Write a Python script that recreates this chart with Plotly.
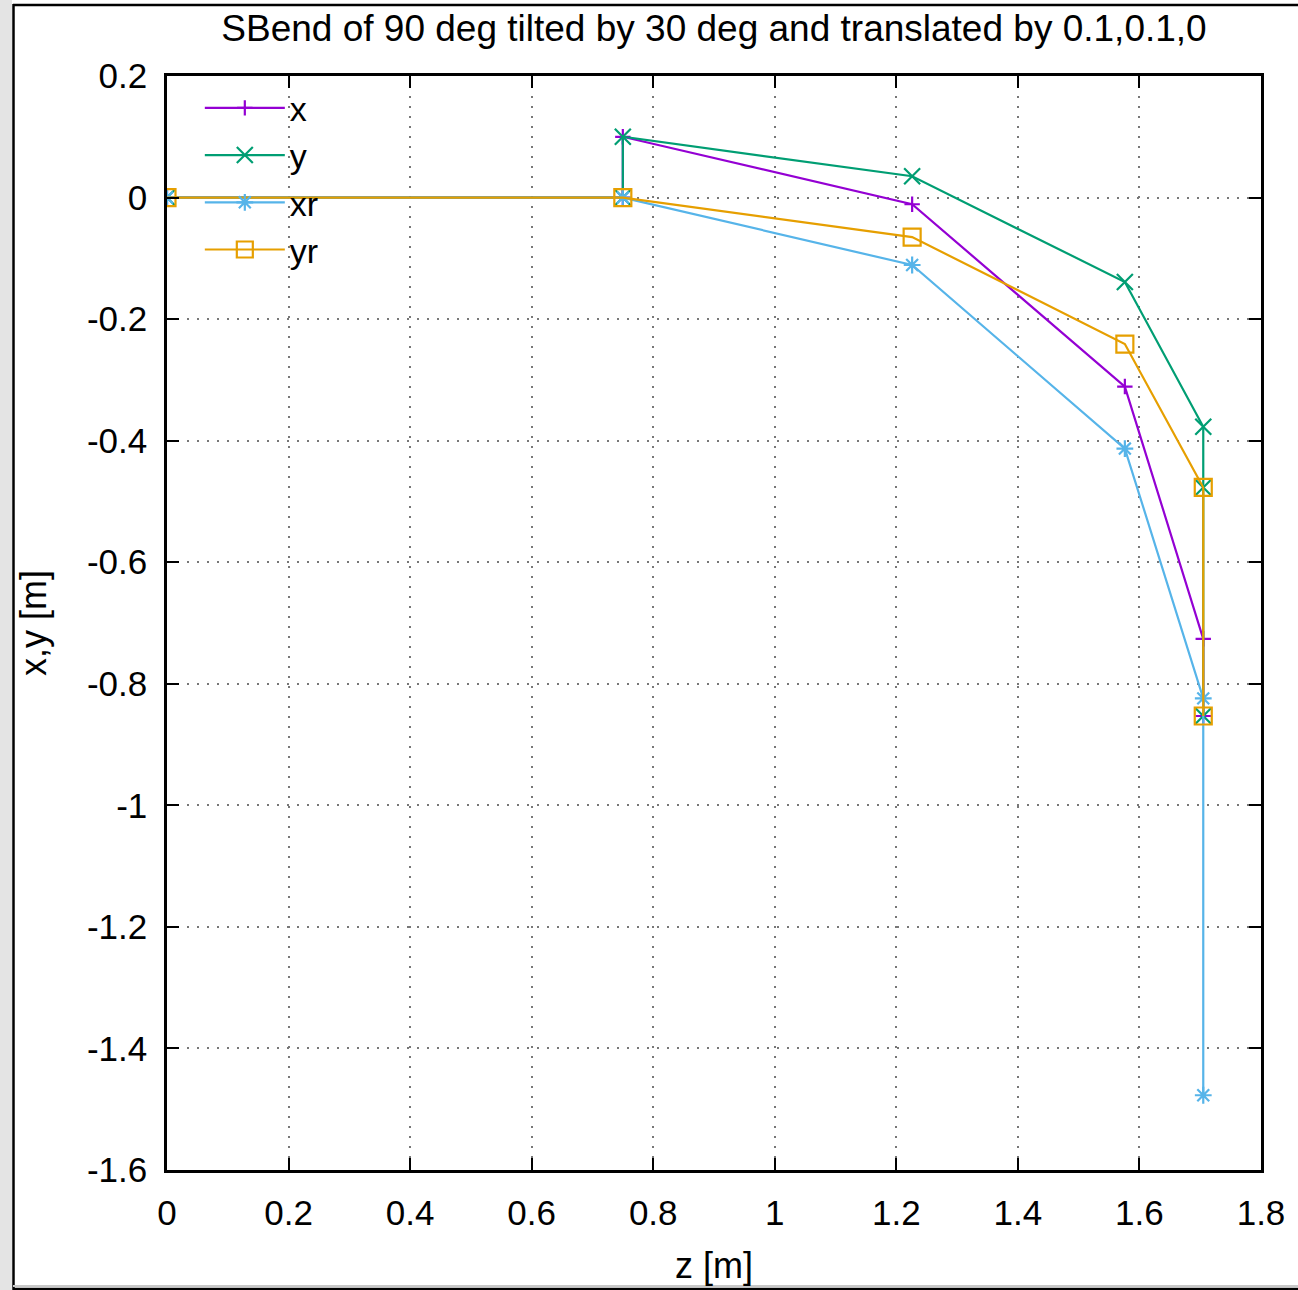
import plotly.graph_objects as go

# ---- data ----
z_x = [0, 0.75, 0.75, 1.226, 1.576, 1.705, 1.705]
v_x = [0, 0, 0.1, -0.011, -0.311, -0.726, -0.853]

z_y = [0, 0.75, 0.75, 1.226, 1.576, 1.705, 1.705, 1.705]
v_y = [0, 0, 0.1, 0.035, -0.139, -0.377, -0.477, -0.853]

z_xr = [0, 0.75, 1.226, 1.576, 1.705, 1.705]
v_xr = [0, 0, -0.111, -0.413, -0.824, -1.477]

z_yr = [0, 0.75, 1.226, 1.576, 1.705, 1.705]
v_yr = [0, 0, -0.065, -0.241, -0.477, -0.853]

x_tickvals = [0, 0.2, 0.4, 0.6, 0.8, 1.0, 1.2, 1.4, 1.6, 1.8]
x_ticktext = ["0", "0.2", "0.4", "0.6", "0.8", "1", "1.2", "1.4", "1.6", "1.8"]
y_tickvals = [0.2, 0, -0.2, -0.4, -0.6, -0.8, -1.0, -1.2, -1.4, -1.6]
y_ticktext = ["0.2", "0", "-0.2", "-0.4", "-0.6", "-0.8", "-1", "-1.2", "-1.4", "-1.6"]

series = [
    ("x", z_x, v_x, "#9400d3", "cross-thin-open", 11),
    ("y", z_y, v_y, "#009e73", "x-thin-open", 16),
    ("xr", z_xr, v_xr, "#56b4e9", "asterisk-open", 14),
    ("yr", z_yr, v_yr, "#e69f00", "square-open", 17),
]

FONT = "Liberation Sans, Arial, Helvetica, sans-serif"
W, H = 1298, 1290
L, R, T, B = 167, 37, 76, 120
PW, PH = W - L - R, H - T - B

fig = go.Figure()
for name, zs, vs, col, sym, sz in series:
    fig.add_trace(go.Scatter(
        x=zs, y=vs, name=name, mode="lines+markers",
        line=dict(color=col, width=2.2),
        marker=dict(symbol=sym, size=sz, color=col,
                    line=dict(color=col, width=2.2)),
    ))

def px2paper_x(px):
    return (px - L) / PW

def px2paper_y(py):
    return 1 - (py - T) / PH

shapes = [
    # window frame decoration
    dict(type="rect", xref="paper", yref="paper",
         x0=px2paper_x(0), x1=px2paper_x(12), y0=px2paper_y(H), y1=px2paper_y(0),
         fillcolor="#e4e4e4", line=dict(width=0), layer="below"),
    dict(type="line", xref="paper", yref="paper",
         x0=px2paper_x(13.5), x1=px2paper_x(13.5), y0=px2paper_y(H), y1=px2paper_y(4),
         line=dict(color="black", width=2.5)),
    dict(type="line", xref="paper", yref="paper",
         x0=px2paper_x(13), x1=px2paper_x(W), y0=px2paper_y(5), y1=px2paper_y(5),
         line=dict(color="black", width=2.5)),
    dict(type="line", xref="paper", yref="paper",
         x0=px2paper_x(13), x1=px2paper_x(W), y0=px2paper_y(1286), y1=px2paper_y(1286),
         line=dict(color="#c8c8c8", width=2)),
    dict(type="line", xref="paper", yref="paper",
         x0=px2paper_x(13), x1=px2paper_x(W), y0=px2paper_y(1289), y1=px2paper_y(1289),
         line=dict(color="black", width=2.5)),
]

axis_common = dict(
    showline=True, linecolor="black", linewidth=2.5, mirror="allticks",
    ticks="inside", ticklen=12, tickwidth=1.5, tickcolor="black",
    showgrid=True, gridcolor="#777777", gridwidth=1.5, griddash="2px,8px",
    zeroline=False, automargin=False,
    tickfont=dict(family=FONT, size=35, color="black"),
)

fig.update_layout(
    width=W, height=H,
    margin=dict(l=L, r=R, t=T, b=B, autoexpand=False),
    paper_bgcolor="white", plot_bgcolor="white",
    title=dict(text="SBend of 90 deg tilted by 30 deg and translated by 0.1,0.1,0",
               x=0.5, xref="paper", xanchor="center",
               y=1 - 28 / H, yanchor="middle",
               font=dict(family=FONT, size=37, color="black")),
    xaxis=dict(range=[0, 1.8], tickvals=x_tickvals, ticktext=x_ticktext,
               ticklabelstandoff=10,
               title=dict(text="z [m]", standoff=23,
                          font=dict(family=FONT, size=36, color="black")),
               **axis_common),
    yaxis=dict(range=[-1.6, 0.2], tickvals=y_tickvals, ticktext=y_ticktext,
               ticklabelstandoff=10,
               title=dict(text="x,y [m]", standoff=30,
                          font=dict(family=FONT, size=36, color="black")),
               **axis_common),
    legend=dict(x=0.03, y=0.997, xanchor="left", yanchor="top",
                bgcolor="rgba(0,0,0,0)",
                font=dict(family=FONT, size=34, color="black"),
                itemwidth=80, tracegroupgap=0),
    shapes=shapes,
    showlegend=True,
)

fig.write_html("out.html",
               config={"displayModeBar": False},
               post_script="document.body.style.margin='0';document.body.style.overflow='hidden';")
